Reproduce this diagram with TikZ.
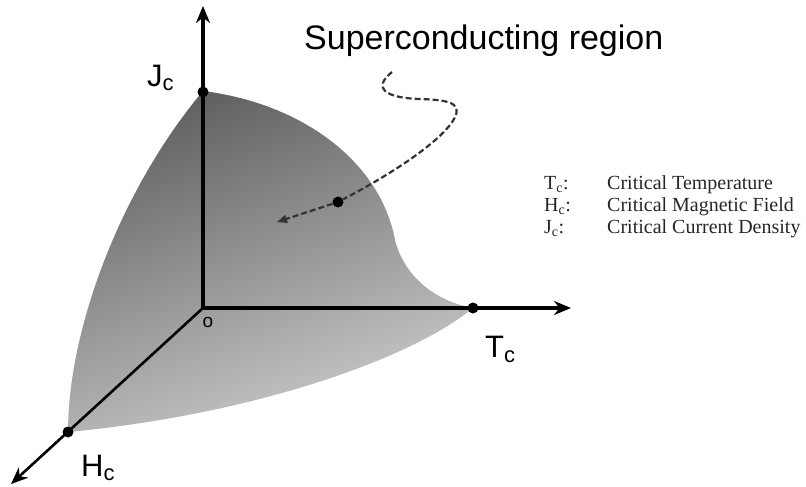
\documentclass[tikz,border=0pt]{standalone}
\usepackage{fontspec}
\setmainfont{Liberation Serif}
\setsansfont{Liberation Sans}
\usetikzlibrary{arrows.meta}
\begin{document}
\begin{tikzpicture}[x=1pt,y=-1pt,
  axisline/.style={line width=3.4pt,-{Stealth[length=17pt,width=14pt]}},
  dotmark/.style={circle,fill=black,inner sep=0pt,minimum size=11pt},
  biglabel/.style={font=\sffamily\fontsize{31}{36}\selectfont,inner sep=0pt,anchor=base west},
  legendtext/.style={font=\rmfamily\fontsize{20}{24}\selectfont,inner sep=0pt,anchor=base west,text=black!85},
  leader/.style={line width=2.2pt,dash pattern=on 6pt off 3pt,black!80}]
\useasboundingbox (0,0) rectangle (806,487);
% shaded superconducting region
\shade[top color=black!62,bottom color=black!20,shading angle=20]
  (203,91) .. controls (300,103) and (380,160) .. (395,240)
  .. controls (403,272) and (430,300) .. (473,308)
  .. controls (410,360) and (250,415) .. (68,432)
  .. controls (68,330) and (120,190) .. (203,91) -- cycle;
% axes
\coordinate (O) at (203,308);
\coordinate (jtip) at (203,6);
\coordinate (ttip) at (571,308);
\coordinate (htip) at (11,484);
\draw[axisline] (O) -- (jtip);
\draw[axisline] (O) -- (ttip);
\draw[axisline,line width=2.6pt] (O) -- (htip);
\node[dotmark] (jc) at (203,92) {};
\node[dotmark] (tc) at (473,308) {};
\node[dotmark] (hc) at (68,432) {};
% labels
\node[biglabel] (jlab) at (147,86) {J\raisebox{-5pt}{\fontsize{22}{22}\selectfont c}};
\node[biglabel] (tlab) at (485,357) {T\raisebox{-5pt}{\fontsize{22}{22}\selectfont c}};
\node[biglabel] (hlab) at (81,476) {H\raisebox{-4pt}{\fontsize{22}{22}\selectfont c}};
\node[font=\sffamily\fontsize{19}{20}\selectfont,inner sep=0pt] (olab) at (208,322) {o};
\node[font=\sffamily\fontsize{34}{40}\selectfont,inner sep=0pt,anchor=base west] (title) at (304,50) {Superconducting region};
% leader
\node[dotmark] (sdot) at (338,202) {};
\coordinate (lstart) at (392,72);
\coordinate (ltip) at (277,222);
\draw[leader] (lstart) .. controls (372,88) and (385,98) .. (420,99)
  .. controls (455,100) and (465,105) .. (450,125)
  .. controls (430,150) and (380,180) .. (sdot);
\draw[leader,-{Triangle[length=10pt,width=8pt]}] (sdot) -- (ltip);
% legend
\node[legendtext] (l1a) at (544,189) {T\textsubscript{c}:};
\node[legendtext] (l2a) at (544,211) {H\textsubscript{c}:};
\node[legendtext] (l3a) at (544,233) {J\textsubscript{c}:};
\node[legendtext] (l1b) at (607,189) {Critical Temperature};
\node[legendtext] (l2b) at (607,211) {Critical Magnetic Field};
\node[legendtext] (l3b) at (607,233) {Critical Current Density};
\end{tikzpicture}
\end{document}
